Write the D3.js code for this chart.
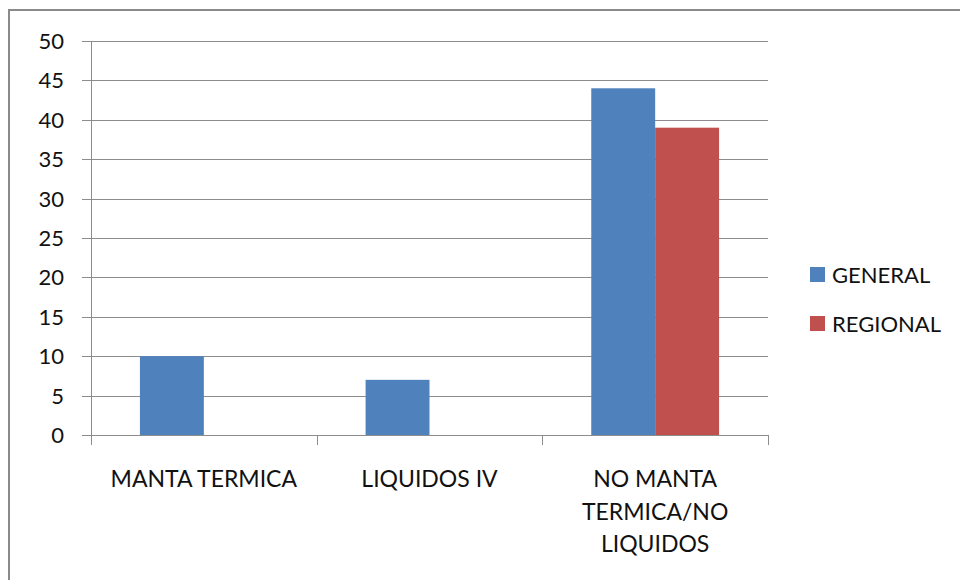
<!DOCTYPE html>
<html><head><meta charset="utf-8">
<script src="https://cdn.jsdelivr.net/npm/d3@7"></script>
<style>body{margin:0;background:#fff}svg{display:block}text{font-family:Lato,"Open Sans",sans-serif;fill:#111}</style>
</head><body><svg id="c" width="960" height="580"></svg>
<script>
const categories = [["MANTA TERMICA"], ["LIQUIDOS IV"], ["NO MANTA", "TERMICA/NO", "LIQUIDOS"]];
const seriesNames = ["GENERAL", "REGIONAL"];
const general = [10, 7, 44];
const regional = [null, null, 39];
const yTicks = [0, 5, 10, 15, 20, 25, 30, 35, 40, 45, 50];
const colors = ["#4F81BD", "#C0504D"];

const svg = d3.select("#c");
svg.append("rect").attr("x", 9).attr("y", 10).attr("width", 960).attr("height", 580)
  .attr("fill", "#fff").attr("stroke", "#8a8a8a").attr("stroke-width", 2);

const pLeft = 91, pRight = 768, pTop = 41, pBottom = 435;
const x = d3.scaleBand().domain(d3.range(categories.length)).range([pLeft, pRight]).paddingInner(0).paddingOuter(0);
const y = d3.scaleLinear().domain([0, 50]).range([pBottom, pTop]);
const inner = d3.scaleBand().domain(seriesNames).range([0, x.bandwidth()]).paddingInner(0).paddingOuter(0.7655);

// gridlines
svg.append("g").selectAll("line").data(yTicks).join("line")
  .attr("x1", pLeft - 9).attr("x2", pRight).attr("y1", d => Math.round(y(d)) + 0.5).attr("y2", d => Math.round(y(d)) + 0.5)
  .attr("stroke", "#8c8c8c").attr("stroke-width", 1);

// bars
const data = [general, regional];
seriesNames.forEach((s, si) => {
  svg.append("g").selectAll("rect").data(data[si].map((v, i) => ({v, i})).filter(d => d.v != null)).join("rect")
    .attr("x", d => x(d.i) + inner(s)).attr("width", inner.bandwidth())
    .attr("y", d => y(d.v)).attr("height", d => y(0) - y(d.v))
    .attr("fill", colors[si]);
});

// axes
svg.append("line").attr("x1", pLeft + 0.5).attr("x2", pLeft + 0.5).attr("y1", pTop).attr("y2", pBottom + 10)
  .attr("stroke", "#8c8c8c");
svg.append("line").attr("x1", pLeft).attr("x2", pRight).attr("y1", pBottom + 0.5).attr("y2", pBottom + 0.5)
  .attr("stroke", "#8c8c8c");
const edges = d3.range(categories.length + 1).map(i => i < categories.length ? x(i) : pRight);
svg.append("g").selectAll("line").data(edges).join("line")
  .attr("x1", d => Math.round(d) + 0.5).attr("x2", d => Math.round(d) + 0.5)
  .attr("y1", pBottom).attr("y2", pBottom + 10).attr("stroke", "#8c8c8c");

// y tick labels
svg.append("g").selectAll("text").data(yTicks).join("text")
  .attr("x", 64).attr("y", d => y(d)).attr("dy", "0.36em").attr("text-anchor", "end")
  .attr("font-size", 22).text(d => d);

// x labels
categories.forEach((lines, i) => {
  const cx = x(i) + x.bandwidth() / 2;
  const t = svg.append("text").attr("text-anchor", "middle").attr("font-size", 23);
  lines.forEach((l, j) => t.append("tspan").attr("x", cx).attr("y", 487 + j * 32.5).text(l));
});

// legend
const lg = svg.append("g").selectAll("g").data(seriesNames).join("g")
  .attr("transform", (d, i) => `translate(810,${267 + i * 49})`);
lg.append("rect").attr("width", 15).attr("height", 15).attr("fill", (d, i) => colors[i]);
lg.append("text").attr("x", 22).attr("y", 15.5).attr("font-size", 22).text(d => d);
</script></body></html>
